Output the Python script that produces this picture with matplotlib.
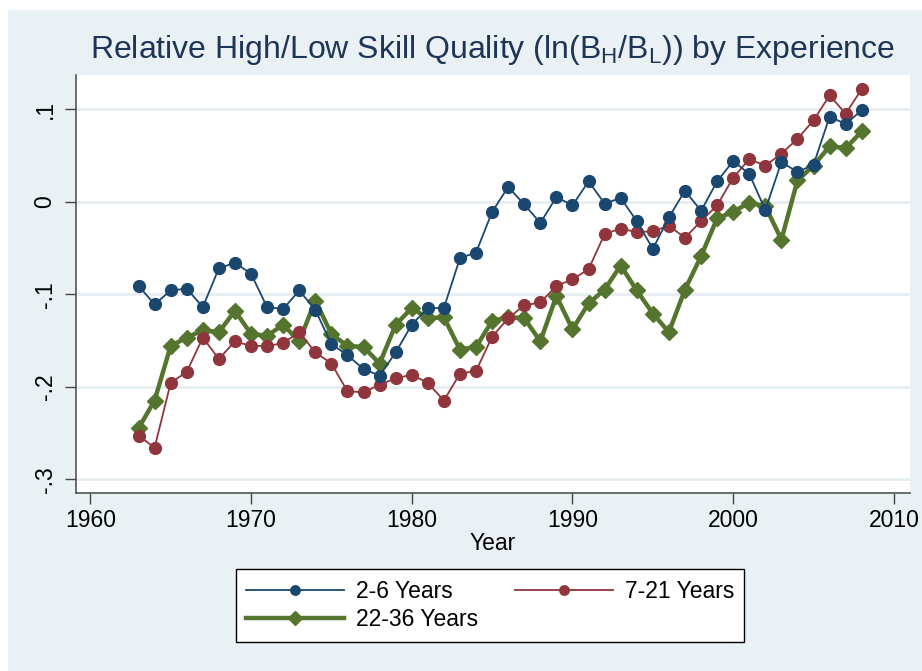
import numpy as np
import matplotlib.pyplot as plt
import matplotlib as mpl
from matplotlib.patches import Rectangle

# data
years = np.arange(1963, 2009)

exp_2_6 = [-0.091, -0.111, -0.096, -0.094, -0.114, -0.072, -0.066, -0.078, -0.114, -0.116,
           -0.096, -0.117, -0.154, -0.166, -0.181, -0.188, -0.163, -0.133, -0.115, -0.115,
           -0.061, -0.055, -0.011, 0.016, -0.003, -0.023, 0.005, -0.004, 0.022, -0.002,
           0.004, -0.021, -0.051, -0.017, 0.012, -0.010, 0.022, 0.044, 0.030, -0.009,
           0.043, 0.032, 0.040, 0.092, 0.084, 0.099]

exp_7_21 = [-0.253, -0.266, -0.196, -0.184, -0.147, -0.170, -0.151, -0.156, -0.156, -0.153,
            -0.141, -0.163, -0.175, -0.205, -0.206, -0.198, -0.191, -0.187, -0.196, -0.215,
            -0.186, -0.183, -0.146, -0.126, -0.112, -0.109, -0.091, -0.084, -0.073, -0.035,
            -0.029, -0.033, -0.032, -0.026, -0.039, -0.021, -0.004, 0.026, 0.046, 0.039,
            0.052, 0.068, 0.088, 0.115, 0.095, 0.122]

exp_22_36 = [-0.245, -0.215, -0.156, -0.147, -0.139, -0.141, -0.118, -0.143, -0.145, -0.133,
             -0.151, -0.107, -0.143, -0.156, -0.157, -0.175, -0.133, -0.115, -0.126, -0.125,
             -0.160, -0.157, -0.129, -0.125, -0.126, -0.151, -0.102, -0.138, -0.110, -0.095,
             -0.069, -0.096, -0.121, -0.141, -0.095, -0.059, -0.018, -0.011, -0.001, -0.005,
             -0.041, 0.023, 0.039, 0.060, 0.058, 0.076]

yticks = [-0.3, -0.2, -0.1, 0, 0.1]
ytick_labels = ['-.3', '-.2', '-.1', '0', '.1']
xticks = [1960, 1970, 1980, 1990, 2000, 2010]

navy = '#1A476F'
maroon = '#90353B'
green = '#55752F'
bgCol = '#EAF1F4'
gridCol = '#E6EDF1'

mpl.rcParams['font.family'] = 'Liberation Sans'
mpl.rcParams['mathtext.fontset'] = 'custom'
mpl.rcParams['mathtext.rm'] = 'Liberation Sans'
mpl.rcParams['mathtext.default'] = 'regular'

fig = plt.figure(figsize=(9.22, 6.71), dpi=100, facecolor='white')
fig.patches.append(Rectangle((8/922, 0), 1 - 8/922, 1 - 10/671, transform=fig.transFigure,
                             facecolor=bgCol, edgecolor='none', zorder=-10))

ax = fig.add_axes([76/922, 1 - 493/671, (910-76)/922, (493-75)/671])
ax.set_facecolor('white')

ax.plot(years, exp_2_6, color=navy, marker='o', markersize=8.5, linewidth=1.3, label='2-6 Years', zorder=3)
ax.plot(years, exp_7_21, color=maroon, marker='o', markersize=8.5, linewidth=1.3, label='7-21 Years', zorder=2)
ax.plot(years, exp_22_36, color=green, marker='D', markersize=8.5, linewidth=3.2, label='22-36 Years', zorder=1)

ax.set_xlim(1959.11, 2011.0)
ax.set_ylim(-0.315, 0.137)
ax.set_yticks(yticks)
ax.set_yticklabels(ytick_labels, rotation=90, va='center')
ax.set_xticks(xticks)
for yv in yticks:
    ax.axhline(yv, color=gridCol, linewidth=2, zorder=0)

ax.tick_params(axis='both', labelsize=16.5, length=8, width=1, color='#444444', direction='out')
ax.tick_params(axis='y', pad=6)
ax.spines['top'].set_visible(False)
ax.spines['right'].set_visible(False)
ax.spines['left'].set_color('#555555')
ax.spines['bottom'].set_color('#555555')
ax.spines['left'].set_linewidth(1.2)
ax.spines['bottom'].set_linewidth(1.2)

ax.set_xlabel('Year', fontsize=16.5, labelpad=0)
fig.text(493/922, 1 - 50/671, 'Relative High/Low Skill Quality (ln(B$_H$/B$_L$)) by Experience',
         ha='center', va='center', fontsize=23, color='#1E3558')

handles, labels = ax.get_legend_handles_labels()
order = [0, 2, 1]
leg = fig.legend([handles[i] for i in order], [labels[i] for i in order], ncol=2, loc='center',
                 bbox_to_anchor=(490/922, 1 - 605.5/671),
                 fontsize=16.5, frameon=True, fancybox=False, framealpha=1, handlelength=4.3,
                 handletextpad=0.5, columnspacing=1.6, borderpad=0.45, labelspacing=0.25,
                 markerscale=0.8)
leg.get_frame().set_edgecolor('black')
leg.get_frame().set_linewidth(1.0)
leg.get_frame().set_facecolor('white')

plt.savefig('out.png', dpi=100, facecolor=fig.get_facecolor())
